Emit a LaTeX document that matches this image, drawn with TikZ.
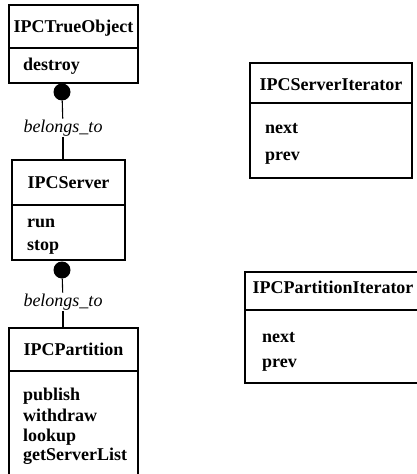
\documentclass[tikz,border=0pt]{standalone}
\usepackage{fontspec}
\setmainfont{Liberation Serif}
\begin{document}
\begin{tikzpicture}[x=1pt,y=-1pt,
  box/.style={draw,line width=1.1pt,anchor=north west,inner sep=0pt,outer sep=0pt},
  title/.style={font=\fontsize{18}{18}\selectfont\bfseries,anchor=base,inner sep=0pt},
  item/.style={font=\fontsize{18}{18}\selectfont\bfseries,anchor=base west,inner sep=0pt},
  rel/.style={font=\fontsize{18}{18}\selectfont\itshape,inner sep=1pt},
  dot/.style={circle,fill=black,inner sep=0pt,minimum size=17pt},
  conn/.style={line width=1.1pt}]
\useasboundingbox (0,0) rectangle (417,474);
% IPCTrueObject
\node[box,minimum width=129pt,minimum height=43pt] (h1) at (9,5) {};
\node[box,minimum width=129pt,minimum height=35pt] (b1) at (9,48) {};
\node[title] (t1) at (73.5,32) {IPCTrueObject};
\node[item] (i1a) at (23,70) {destroy};
% IPCServer
\node[box,minimum width=113pt,minimum height=45pt] (h2) at (12,160) {};
\node[box,minimum width=113pt,minimum height=55pt] (b2) at (12,205) {};
\node[title] (t2) at (68.5,188) {IPCServer};
\node[item] (i2a) at (27,227) {run};
\node[item] (i2b) at (27,250) {stop};
% IPCPartition
\node[box,minimum width=129pt,minimum height=43pt] (h3) at (9,328) {};
\node[box,minimum width=129pt,minimum height=110pt] (b3) at (9,371) {};
\node[title] (t3) at (73.5,355) {IPCPartition};
\node[item] (i3a) at (23,400) {publish};
\node[item] (i3b) at (23,421) {withdraw};
\node[item] (i3c) at (23,441) {lookup};
\node[item] (i3d) at (23,460) {getServerList};
% IPCServerIterator
\node[box,minimum width=162pt,minimum height=40pt] (h4) at (250,63) {};
\node[box,minimum width=162pt,minimum height=75pt] (b4) at (250,103) {};
\node[title] (t4) at (331,90) {IPCServerIterator};
\node[item] (i4a) at (265,133) {next};
\node[item] (i4b) at (265,160) {prev};
% IPCPartitionIterator
\node[box,minimum width=180pt,minimum height=38pt] (h5) at (245,272) {};
\node[box,minimum width=180pt,minimum height=73pt] (b5) at (245,310) {};
\node[title] (t5) at (333,293) {IPCPartitionIterator};
\node[item] (i5a) at (262,342) {next};
\node[item] (i5b) at (262,367) {prev};
% associations
\node[dot] (d1) at (62,92) {};
\node[rel] (l1) at (63,128) {belongs\_to};
\draw[conn] (d1) -- (l1);
\draw[conn] (l1) -- (l1.south |- h2.north);
\node[dot] (d2) at (62,270) {};
\node[rel] (l2) at (63,302) {belongs\_to};
\draw[conn] (d2) -- (l2);
\draw[conn] (l2) -- (l2.south |- h3.north);
\end{tikzpicture}
\end{document}
